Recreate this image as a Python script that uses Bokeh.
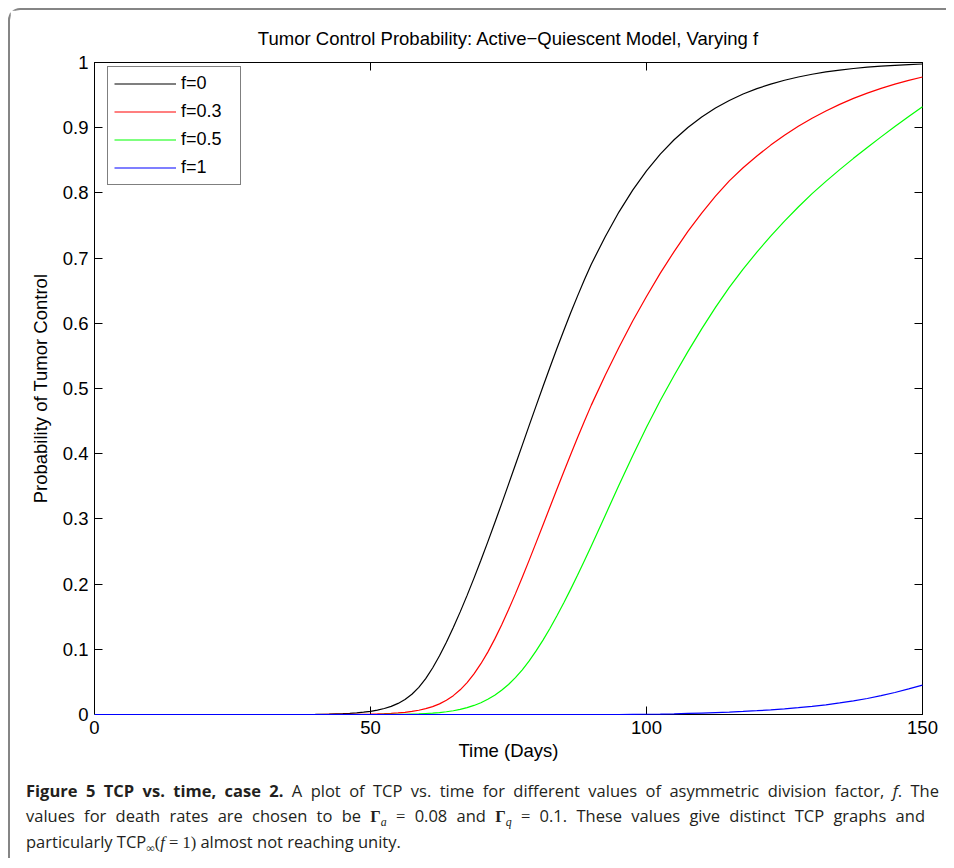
from bokeh.plotting import figure
from bokeh.models import Range1d, FixedTicker, LinearAxis, CustomJSTickFormatter, Div
from bokeh.layouts import column
from bokeh.embed import file_html
from bokeh.resources import INLINE

# ---------------- data ----------------
time_days = [0, 10, 20, 30, 40, 42.5,
             45, 46.25, 47.5, 48.75, 50, 51.25, 52.5, 53.75, 55, 56.25, 57.5, 58.75, 60,
             61.25, 62.5, 63.75, 65, 66.25, 67.5, 68.75, 70, 71.25, 72.5, 73.75, 75, 76.25,
             77.5, 78.75, 80, 81.25, 82.5, 83.75, 85, 86.25, 87.5, 88.75, 90,
             92.5, 95, 97.5, 100, 102.5, 105, 107.5, 110, 112.5, 115, 117.5, 120, 122.5,
             125, 127.5, 130, 132.5, 135, 137.5, 140, 142.5, 145, 147.5, 150]

tcp_f0 = [0, 0, 0, 0, 0.0002, 0.0005,
          0.0012, 0.0017, 0.0025, 0.0035, 0.0049, 0.0068, 0.0092, 0.0125, 0.017, 0.023,
          0.031, 0.0415, 0.055, 0.0713, 0.0901, 0.1109, 0.1334, 0.1574, 0.1827, 0.2092,
          0.2366, 0.2648, 0.2937, 0.3231, 0.3529, 0.383, 0.4132, 0.4434, 0.4734, 0.5031,
          0.5323, 0.5609, 0.5887, 0.6157, 0.6417, 0.6667, 0.6907,
          0.7324, 0.7706, 0.8043, 0.8338, 0.8594, 0.8815, 0.9004, 0.9165, 0.9302, 0.9418,
          0.9516, 0.9599, 0.9669, 0.9728, 0.9778, 0.982, 0.9855, 0.9884, 0.9908, 0.9928,
          0.9944, 0.9957, 0.9968, 0.9977]

tcp_f03 = [0, 0, 0, 0, 0, 0.00005,
           0.0001, 0.00017, 0.00027, 0.00041, 0.00061, 0.00088, 0.00125, 0.00175, 0.00245,
           0.0034, 0.0047, 0.0065, 0.0089, 0.0121, 0.0163, 0.0218, 0.0289, 0.0379, 0.049,
           0.0623, 0.0779, 0.0957, 0.1156, 0.1373, 0.1605, 0.185, 0.2105, 0.2368, 0.2636,
           0.2907, 0.3179, 0.345, 0.3719, 0.3984, 0.4244, 0.4498, 0.4745,
           0.520, 0.563, 0.6035, 0.641, 0.677, 0.710, 0.741, 0.769, 0.795, 0.8185, 0.8385,
           0.8567, 0.8733, 0.8884, 0.9021, 0.9145, 0.9257, 0.9358, 0.9449, 0.9531, 0.9604,
           0.9669, 0.9727, 0.9778]

tcp_f05 = [0, 0, 0, 0, 0, 0,
           0, 0, 0, 0, 0, 0, 0.0001, 0.00015, 0.0002, 0.00035, 0.0006, 0.0009, 0.0015,
           0.0021, 0.003, 0.0042, 0.0058, 0.0079, 0.0105, 0.0139, 0.018, 0.0233, 0.0295,
           0.0372, 0.046, 0.0566, 0.0685, 0.0822, 0.0975, 0.1141, 0.132, 0.1511, 0.171,
           0.1919, 0.2135, 0.2358, 0.2585,
           0.305, 0.3515, 0.397, 0.4405, 0.4815, 0.52, 0.5565, 0.5915, 0.6245, 0.655, 0.683,
           0.7092, 0.7337, 0.7567, 0.7784, 0.7989, 0.8177, 0.8357, 0.853, 0.8697, 0.8859,
           0.9017, 0.9171, 0.9321]

tcp_f1 = [0, 0, 0, 0, 0, 0,
          0, 0, 0, 0, 0, 0, 0, 0, 0, 0, 0, 0, 0, 0, 0, 0, 0, 0, 0, 0, 0, 0, 0, 0, 0, 0, 0,
          0, 0, 0, 0, 0, 0, 0, 0, 0, 0,
          0, 0, 0.0002, 0.0004, 0.0007, 0.0011, 0.0016, 0.0022, 0.0029, 0.0037, 0.0047,
          0.0058, 0.0071, 0.0086, 0.0104, 0.0125, 0.0149, 0.0177, 0.0209, 0.0245, 0.029,
          0.0338, 0.0392, 0.045]

series_labels = ["f=0", "f=0.3", "f=0.5", "f=1"]
series_colors = ["#000000", "#ff0000", "#00ff00", "#0000ff"]
series_values = [tcp_f0, tcp_f03, tcp_f05, tcp_f1]

x_ticks = [0, 50, 100, 150]
y_ticks = [0, 0.1, 0.2, 0.3, 0.4, 0.5, 0.6, 0.7, 0.8, 0.9, 1]

title_text = "Tumor Control Probability: Active\u2212Quiescent Model, Varying f"
x_label = "Time (Days)"
y_label = "Probability of Tumor Control"

assert all(len(v) == len(time_days) for v in series_values)

# ---------------- figure ----------------
FONT = "Liberation Sans"
FS = "18.5px"

p = figure(width=936, height=760, x_range=Range1d(0, 150), y_range=Range1d(0, 1),
           output_backend="svg", toolbar_location=None, tools="", title=title_text,
           min_border_left=84, min_border_right=24, min_border_top=52, min_border_bottom=56)
p.xgrid.visible = False
p.ygrid.visible = False
p.outline_line_color = "black"
p.background_fill_color = "white"
p.border_fill_color = "white"

p.title.text_font = FONT
p.title.text_font_size = FS
p.title.text_font_style = "normal"
p.title.text_color = "black"
p.title.align = "center"
p.title.standoff = 28
p.title.offset = 0

bottom_axis = p.below[0]
left_axis = p.left[0]
top_axis = LinearAxis()
right_axis = LinearAxis()
p.add_layout(top_axis, "above")
p.add_layout(right_axis, "right")


def style_axis(ax, ticks, show_labels):
    ax.ticker = FixedTicker(ticks=ticks)
    ax.major_tick_in = 8
    ax.major_tick_out = 0
    ax.minor_tick_line_color = None
    ax.axis_line_color = "black"
    ax.major_tick_line_color = "black"
    ax.major_label_text_font = FONT
    ax.major_label_text_font_size = FS
    ax.major_label_text_color = "black"
    if not show_labels:
        ax.formatter = CustomJSTickFormatter(code="return '';")
        ax.major_label_standoff = 0


style_axis(bottom_axis, x_ticks, True)
style_axis(left_axis, y_ticks, True)
style_axis(top_axis, x_ticks, False)
style_axis(right_axis, y_ticks, False)

left_axis.formatter = CustomJSTickFormatter(code="return Number(tick.toFixed(1)).toString();")

bottom_axis.axis_label = x_label
bottom_axis.major_label_standoff = 6
bottom_axis.axis_label_standoff = 3
left_axis.axis_label = y_label
left_axis.major_label_standoff = 6
left_axis.axis_label_standoff = 9
for ax in (bottom_axis, left_axis):
    ax.axis_label_text_font = FONT
    ax.axis_label_text_font_size = FS
    ax.axis_label_text_font_style = "normal"
    ax.axis_label_text_color = "black"

for vals, col, lab in zip(series_values, series_colors, series_labels):
    p.line(time_days, vals, line_color=col, line_width=1.2, legend_label=lab, level="overlay")

leg = p.legend[0]
leg.location = (13, 529)
leg.border_line_color = "black"
leg.border_line_width = 1
leg.background_fill_color = "white"
leg.background_fill_alpha = 1
leg.label_text_font = FONT
leg.label_text_font_size = "18px"
leg.label_text_color = "black"
leg.glyph_width = 62
leg.glyph_height = 21
leg.label_height = 21
leg.label_width = 53
leg.spacing = 7
leg.padding = 6
leg.label_standoff = 5
leg.margin = 0

# ---------------- caption ----------------
serif = "font-family:'Liberation Serif',serif;"
sub = "font-size:0.72em;line-height:0;vertical-align:-0.3em;"
caption_html = (
    "<div style=\"font-family:'Open Sans',sans-serif;font-size:16.5px;line-height:25px;"
    "color:#231f20;padding-top:8px;padding-left:16px;\">"
    "<div style='width:913px;text-align:justify;text-align-last:justify;'>"
    "<b>Figure 5 TCP vs. time, case 2.</b> A plot of TCP vs. time for different values of "
    "asymmetric division factor, <i>f</i>. The</div>"
    "<div style='width:899px;text-align:justify;text-align-last:justify;'>"
    "values for death rates are chosen to be "
    f"<span style=\"{serif}font-weight:bold;\">\u0393</span>"
    f"<span style=\"{serif}{sub}font-style:italic;\">a</span>"
    f" <span style=\"{serif}\">=</span> 0.08 and "
    f"<span style=\"{serif}font-weight:bold;\">\u0393</span>"
    f"<span style=\"{serif}{sub}font-style:italic;\">q</span>"
    f" <span style=\"{serif}\">=</span> 0.1. These values give distinct TCP graphs and</div>"
    "<div>particularly TCP"
    f"<span style=\"{serif}{sub}\">\u221e</span>"
    f"<span style=\"{serif}\">(<i>f</i> = 1)</span> almost not reaching unity.</div>"
    "</div>"
)
caption = Div(text=caption_html, width=936, height=88, margin=0)

layout = column(p, caption, margin=(8, 0, 0, 8),
                styles={"border-top": "2px solid #858585", "border-left": "2px solid #858585",
                        "border-top-left-radius": "12px"})

open("out.html", "w").write(file_html(layout, INLINE, title="TCP vs time"))
